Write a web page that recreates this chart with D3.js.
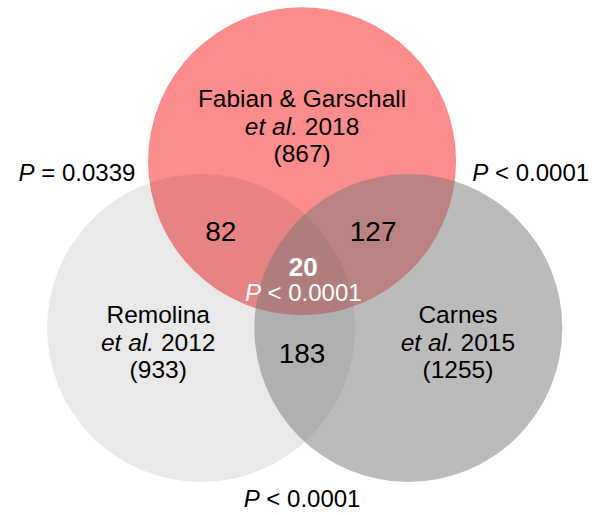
<!DOCTYPE html>
<html>
<head>
<meta charset="utf-8">
<script src="https://cdn.jsdelivr.net/npm/d3@7"></script>
<style>
  body { margin: 0; background: #fff; }
  text { font-family: "Liberation Sans", Arial, sans-serif; fill: #000; }
</style>
</head>
<body>
<svg id="vis"></svg>
<script>
var width = 597, height = 515;

// data
var setNames = ["Fabian & Garschall", "Remolina", "Carnes"];
var setYears = ["2018", "2012", "2015"];
var setSizes = [867, 933, 1255];
var pairOverlaps = [82, 127, 183];   // F&R, F&C, R&C
var tripleOverlap = 20;
var pairPValues = ["P = 0.0339", "P < 0.0001", "P < 0.0001"];
var triplePValue = "P < 0.0001";

var svg = d3.select("#vis")
    .attr("width", width)
    .attr("height", height);

// layout in unit space, mapped to pixels
var x = d3.scaleLinear().domain([0, 1]).range([0, width]);
var y = d3.scaleLinear().domain([0, 1]).range([0, height]);
var radius = 154;

var circles = [
    {cx: 0.506, cy: 0.313, fill: "#fd8c8c", opacity: 1},
    {cx: 0.337, cy: 0.637, fill: "#3e3e3e", opacity: 0.115},
    {cx: 0.684, cy: 0.637, fill: "#787878", opacity: 0.5}
];

svg.selectAll("circle")
    .data(circles)
    .enter()
    .append("circle")
    .attr("cx", d => x(d.cx))
    .attr("cy", d => y(d.cy))
    .attr("r", radius)
    .attr("fill", d => d.fill)
    .attr("fill-opacity", d => d.opacity);

// set labels
var labelPos = [[0.506, 0.208], [0.265, 0.628], [0.767, 0.628]];
var lineH = 27.5;
var fs = 24.5;

setNames.forEach(function(name, i) {
    var g = svg.append("text")
        .attr("text-anchor", "middle")
        .attr("font-size", fs);
    var px = x(labelPos[i][0]), py = y(labelPos[i][1]);
    g.append("tspan").attr("x", px).attr("y", py).text(name);
    var l2 = g.append("tspan").attr("x", px).attr("y", py + lineH);
    l2.append("tspan").attr("font-style", "italic").text("et al.");
    l2.append("tspan").text(" " + setYears[i]);
    g.append("tspan").attr("x", px).attr("y", py + 2 * lineH).text("(" + setSizes[i] + ")");
});

// overlap counts
var overlapPos = [[0.370, 0.467], [0.625, 0.467], [0.506, 0.705]];
svg.selectAll(".ov")
    .data(pairOverlaps)
    .enter()
    .append("text")
    .attr("class", "ov")
    .attr("text-anchor", "middle")
    .attr("font-size", 28)
    .attr("x", (d, i) => x(overlapPos[i][0]))
    .attr("y", (d, i) => y(overlapPos[i][1]))
    .text(d => d);

// center
svg.append("text")
    .attr("text-anchor", "middle")
    .attr("font-size", 26)
    .attr("font-weight", "bold")
    .attr("x", x(0.508))
    .attr("y", y(0.535))
    .style("fill", "#fff")
    .text(tripleOverlap);

var pText = function(sel, str) {
    var parts = str.split(" ");
    sel.append("tspan").attr("font-style", "italic").text(parts[0]);
    sel.append("tspan").text(" " + parts.slice(1).join(" "));
};

pText(svg.append("text")
    .attr("text-anchor", "middle")
    .attr("font-size", 24)
    .attr("x", x(0.508))
    .attr("y", y(0.584))
    .style("fill", "#fff"), triplePValue);

// pairwise p-values
var pPos = [[0.129, 0.352], [0.889, 0.352], [0.506, 0.985]];
pairPValues.forEach(function(p, i) {
    pText(svg.append("text")
        .attr("text-anchor", "middle")
        .attr("font-size", 24)
        .attr("x", x(pPos[i][0]))
        .attr("y", y(pPos[i][1])), p);
});
</script>
</body>
</html>
